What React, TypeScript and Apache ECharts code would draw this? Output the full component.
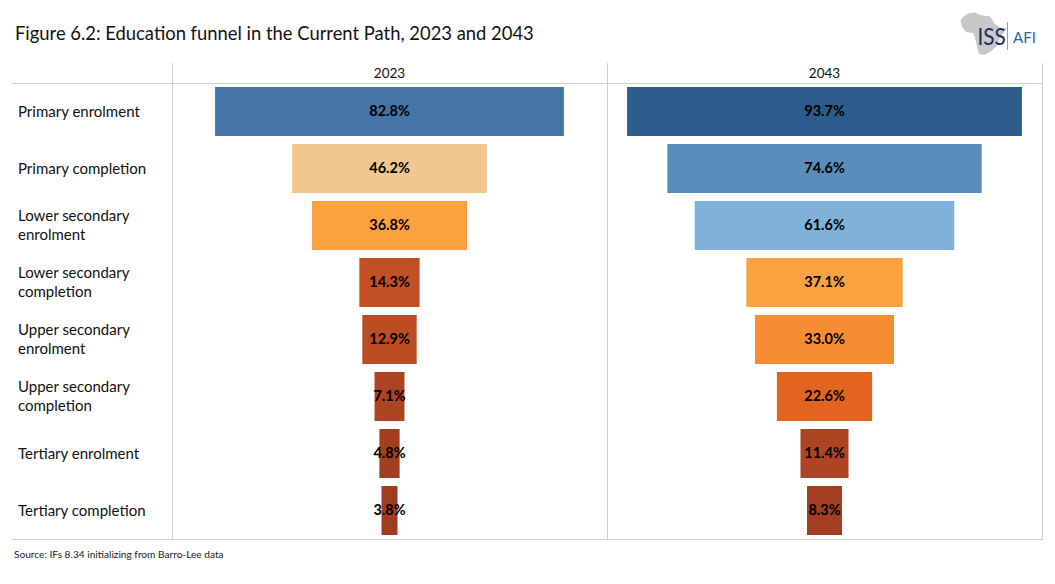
import React, { useEffect, useRef } from "react";
import * as echarts from "echarts";

const categories = [
  "Primary enrolment",
  "Primary completion",
  "Lower secondary\nenrolment",
  "Lower secondary\ncompletion",
  "Upper secondary\nenrolment",
  "Upper secondary\ncompletion",
  "Tertiary enrolment",
  "Tertiary completion",
];
const values2023 = [82.8, 46.2, 36.8, 14.3, 12.9, 7.1, 4.8, 3.8];
const values2043 = [93.7, 74.6, 61.6, 37.1, 33.0, 22.6, 11.4, 8.3];
const colors2023 = ["#4575A6", "#F2C78F", "#FCA140", "#C25024", "#BC4C22", "#AC4423", "#A23D20", "#A03C20"];
const colors2043 = ["#2C5C8C", "#5A8CBC", "#80B2D9", "#FCA140", "#F68D32", "#E2641F", "#AE4423", "#A33E21"];
const AXIS_SPAN = 103;
const FONT = "Lato, Carlito, sans-serif";
const GRID_LINE = "#CFCFCF";
const africa = [
  [960.5, 20], [963, 17], [968, 13.5], [975, 12.5], [980, 15], [990, 16.5], [995, 24], [1001, 28],
  [1007, 28], [1000, 38], [997, 46], [990, 52], [984, 55], [979, 54], [977, 46], [975, 38], [973, 33],
  [966, 32], [962, 27],
];

function panel(idx: number, year: string, values: number[], colors: string[]) {
  return {
    xAxis: {
      gridIndex: idx, type: "value", position: "top", min: 0, max: AXIS_SPAN,
      name: year, nameLocation: "middle", nameGap: 3,
      nameTextStyle: { fontFamily: FONT, fontSize: 13.5, color: "#111" },
      axisLine: { show: false }, axisTick: { show: false }, axisLabel: { show: false }, splitLine: { show: false },
    },
    yAxis: {
      gridIndex: idx, type: "category", inverse: true, data: categories,
      axisLine: { show: false }, axisTick: { show: false }, axisLabel: { show: false },
    },
    series: [
      {
        type: "bar", stack: "s" + idx, xAxisIndex: idx, yAxisIndex: idx, barWidth: 49, silent: true,
        itemStyle: { color: "transparent" },
        data: values.map((v) => (AXIS_SPAN - v) / 2),
      },
      {
        type: "bar", stack: "s" + idx, xAxisIndex: idx, yAxisIndex: idx, barWidth: 49,
        data: values.map((v, i) => ({ value: v, itemStyle: { color: colors[i] } })),
        label: {
          show: true, position: "inside", offset: [0, -1], formatter: (p: any) => p.value.toFixed(1) + "%",
          fontFamily: FONT, fontSize: 14.5, fontWeight: "bold", color: "#000",
        },
      },
    ],
  };
}

function line(x1: number, y1: number, x2: number, y2: number, stroke = GRID_LINE, lineWidth = 1) {
  return { type: "line", silent: true, shape: { x1, y1, x2, y2 }, style: { stroke, lineWidth } };
}

export default function App() {
  const ref = useRef<HTMLDivElement>(null);
  useEffect(() => {
    const chart = echarts.init(ref.current!, null, { renderer: "svg" });
    const a = panel(0, "2023", values2023, colors2023);
    const b = panel(1, "2043", values2043, colors2043);
    chart.setOption({
      animation: false,
      backgroundColor: "#fff",
      grid: [
        { left: 172.5, top: 83, width: 434, height: 456 },
        { left: 607.5, top: 83, width: 434, height: 456 },
        { left: 172.5, top: 82, width: 434, height: 456 },
      ],
      xAxis: [a.xAxis, b.xAxis, { gridIndex: 2, type: "value", show: false }],
      yAxis: [
        a.yAxis,
        b.yAxis,
        {
          gridIndex: 2, type: "category", inverse: true, data: categories,
          axisLine: { show: false }, axisTick: { show: false },
          axisLabel: { show: true, align: "left", margin: 154.5, fontFamily: FONT, fontSize: 15, lineHeight: 19, color: "#111" },
        },
      ],
      series: [...a.series, ...b.series],
      graphic: [
        line(12, 83.5, 1042, 83.5),
        line(12, 539.5, 1042, 539.5),
        line(172.5, 63, 172.5, 540),
        line(607.5, 63, 607.5, 540),
        line(1042.5, 63, 1042.5, 540),
        { type: "text", x: 15, y: 33, style: { text: "Figure 6.2: Education funnel in the Current Path, 2023 and 2043", fontFamily: FONT, fontSize: 18.4, fill: "#111", textVerticalAlign: "middle" } },
        { type: "text", x: 14, y: 554, style: { text: "Source: IFs 8.34 initializing from Barro-Lee data", fontFamily: FONT, fontSize: 10.15, fill: "#222", textVerticalAlign: "middle" } },
        { type: "polygon", silent: true, shape: { points: africa }, style: { fill: "#C6C8CA" } },
        { type: "text", x: 977.5, y: 36, scaleX: 0.9, style: { text: "ISS", fontFamily: FONT, fontSize: 23, fill: "#1D2D5C", textVerticalAlign: "middle" } },
        line(1007.5, 22, 1007.5, 50, "#7FAE84", 1),
        { type: "text", x: 1013, y: 37, style: { text: "AFI", fontFamily: FONT, fontSize: 15, fill: "#2A66A8", textVerticalAlign: "middle" } },
      ],
    });
    return () => chart.dispose();
  }, []);
  return <div ref={ref} style={{ position: "absolute", left: 0, top: 0, width: 1055, height: 584 }} />;
}
